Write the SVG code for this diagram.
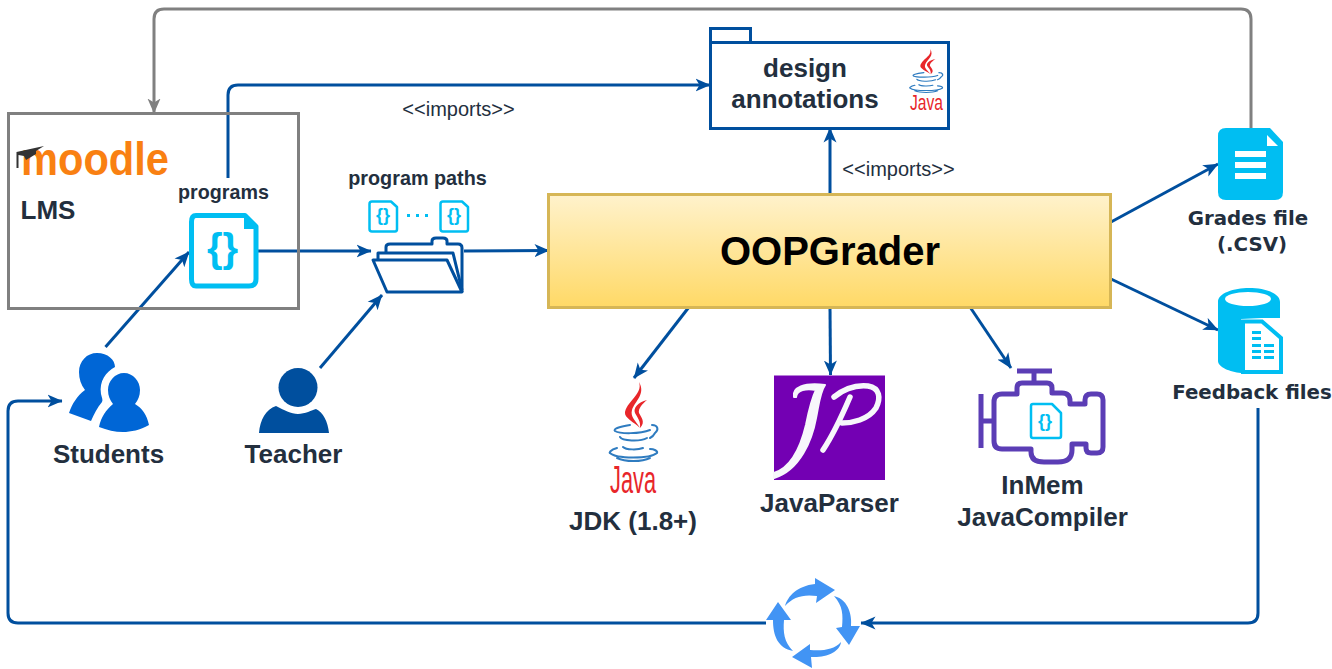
<svg xmlns="http://www.w3.org/2000/svg" width="1332" height="669" viewBox="0 0 1332 669">
<style>
text{font-family:"Liberation Sans",Arial,sans-serif;fill:#232f3e;text-anchor:middle}
.b{font-weight:bold}
.v{font-family:"DejaVu Sans",Verdana,sans-serif;font-weight:bold;font-size:19.800px}
.c{fill:none;stroke:#004f9e;stroke-width:3;stroke-linecap:butt}
.g{fill:none;stroke:#808080;stroke-width:3}
.f{fill:#fff;stroke:#00bef2;stroke-linejoin:round}
.br{font-family:"Liberation Sans",Arial,sans-serif;font-weight:bold;fill:#00bef2}
.jb{fill:none;stroke:#2f7cc0;stroke-width:2;stroke-linecap:round}
</style>
<defs>
<marker id="a" markerUnits="userSpaceOnUse" markerWidth="16" markerHeight="14" refX="14.500" refY="7" orient="auto"><path d="M0 0.500L15 7L0 13.500L4 7Z" fill="#004f9e"/></marker>
<marker id="ag" markerUnits="userSpaceOnUse" markerWidth="16" markerHeight="14" refX="14.500" refY="7" orient="auto"><path d="M0 0.500L15 7L0 13.500L4 7Z" fill="#808080"/></marker>
<linearGradient id="y" x1="0" y1="0" x2="0" y2="1"><stop offset="0" stop-color="#fff2cc"/><stop offset="1" stop-color="#ffd966"/></linearGradient>
<g id="jv">
<path d="M29 0C33 12 18 18 15 30C14 36 24 40 30 46C26 39 20 35 22 28C25 19 36 12 29 0Z" fill="#e8262a"/>
<path d="M37 18C28 20 23 26 25 31C27 35 31 39 30 46C36 40 31 35 29 31C28 27 32 22 37 18Z" fill="#e8262a"/>
<path class="jb" d="M20 43C8 45 3 47 5 49C10 52 30 52 40 48M42 43C48 43 49 48 45 51C44 53 42 55 40 56M10 55C12 59 30 60 37 56M13 65C16 68 28 68 33 66M7 66C0 68 -1 71 0 71C6 77 40 77 47 71C48 69 44 67 40 67M7 76C15 80 32 80 40 76"/>
</g>
</defs>

<g id="connectors">
<path class="g" marker-end="url(#ag)" d="M1251 128V19Q1251 9 1241 9H164Q154 9 154 19V113"/>
<path class="c" marker-end="url(#a)" d="M228 178V95Q228 85 238 85H710"/>
<path class="c" marker-end="url(#a)" d="M258 251H371"/>
<path class="c" marker-end="url(#a)" d="M464 251L549 250.500"/>
<path class="c" marker-end="url(#a)" d="M105.500 347L189 252"/>
<path class="c" marker-end="url(#a)" d="M320 368L382 295"/>
<path class="c" marker-end="url(#a)" d="M830 194V128"/>
<path class="c" marker-end="url(#a)" d="M689 307L634 378"/>
<path class="c" marker-end="url(#a)" d="M830 307L830.500 375"/>
<path class="c" marker-end="url(#a)" d="M970 307L1011 368"/>
<path class="c" marker-end="url(#a)" d="M1111 222L1218 164"/>
<path class="c" marker-end="url(#a)" d="M1111 279L1218 330"/>
<path class="c" marker-end="url(#a)" d="M1258 408V613Q1258 623 1248 623H861"/>
<path class="c" marker-end="url(#a)" d="M766 623H18Q8 623 8 613V411Q8 401 18 401H62"/>
</g>

<g id="lms">
<rect x="8.500" y="113.500" width="290" height="195" fill="none" stroke="#808080" stroke-width="3"/>
<text x="95" y="175" font-size="47" font-weight="bold" style="fill:#f98012" textLength="148" lengthAdjust="spacingAndGlyphs">moodle</text>
<path d="M16.500 152L44 146L36 151V154L26 160L24 156L18.500 155V168H16.500Z" fill="#333"/>
<text class="b" x="48" y="219" font-size="26">LMS</text>
</g>

<g id="programs">
<text class="b" x="223.500" y="199" font-size="19.700">programs</text>
<path class="f" stroke-width="5" d="M196 215.500H245L256 226.500V279Q256 286 249 286H196Q191.500 286 191.500 279V222Q191.500 215.500 196 215.500Z"/>
<path d="M244 214H246L258 226V229H244Z" fill="#00bef2"/>
<text class="br" x="222.500" y="262" font-size="40">{}</text>
</g>

<g id="program-paths">
<text class="b" x="417.500" y="185" font-size="19.800">program paths</text>
<path class="f" stroke-width="2.500" d="M372 201.500H391L397 207V229Q397 231.500 395 231.500H372Q369.500 231.500 369.500 229V204Q369.500 201.500 372 201.500Z"/>
<text class="br" x="383" y="221" font-size="18">{}</text>
<path class="f" stroke-width="2.500" d="M443 201.500H462L468 207V229Q468 231.500 466 231.500H443Q440.500 231.500 440.500 229V204Q440.500 201.500 443 201.500Z"/>
<text class="br" x="454" y="221" font-size="18">{}</text>
<path d="M407 214h3v3h-3zM416 214h3v3h-3zM425 214h3v3h-3z" fill="#00bef2"/>
<g fill="none" stroke="#004f9e" stroke-width="3" stroke-linejoin="round">
<path fill="#fff" d="M386 252V247Q386 244 390 244H432V241Q432 238 436 238H443Q447 238 447 241V244H458Q462 244 462 248V292"/>
<path fill="#fff" d="M378 263V253H453L462 290"/>
<path fill="#fff" d="M373 260H447L462 292H387Z"/>
</g>
</g>

<g id="students">
<path d="M97 353C108 353 115 360 115 367C106 372 99 381 101 394C102 398 103 400 102 402C97 408 94 414 91 421L69 413C72 404 77 396 85 390C81 385 79 379 79 372C79 361 87 353 97 353Z" fill="#0066d6"/>
<path d="M124 373C133 373 140 381 140 390C140 396 138 400 135 404C142 408 147 415 149 425C140 430 131 432 123 432C115 432 107 430 99 427C101 417 106 410 113 404C110 400 108 396 108 390C108 381 115 373 124 373Z" fill="#0066d6"/>
<text class="b" x="108.500" y="463" font-size="26">Students</text>
</g>

<g id="teacher">
<circle cx="298" cy="387.500" r="19.500" fill="#004f9e"/>
<path d="M259 433C260 420 266 409 276 406C284 410 291 414 298 414C305 414 312 410 316 409C323 412 328 422 329 433Z" fill="#004f9e"/>
<text class="b" x="293.500" y="463" font-size="26">Teacher</text>
</g>

<g id="design-annotations">
<rect x="710.500" y="28.500" width="40" height="14" fill="#fff" stroke="#004f9e" stroke-width="3"/>
<rect x="710.500" y="42.500" width="238" height="86" fill="#fff" stroke="#004f9e" stroke-width="3"/>
<text class="b" x="805" y="77" font-size="26">design</text>
<text class="b" x="805" y="108" font-size="26">annotations</text>
<use href="#jv" transform="translate(910 49) scale(.69 .55)"/>
<text transform="translate(926.500 110) scale(1 1.200)" x="0" y="0" font-size="19" style="fill:#e8262a" textLength="33" lengthAdjust="spacingAndGlyphs">Java</text>
</g>

<text x="458.500" y="116" font-size="20">&lt;&lt;imports&gt;&gt;</text>
<text x="898.500" y="176" font-size="20">&lt;&lt;imports&gt;&gt;</text>

<g id="oopgrader">
<rect x="548.500" y="194.500" width="562" height="113" fill="url(#y)" stroke="#d6b656" stroke-width="3"/>
<text class="b" x="830" y="265" font-size="40" style="fill:#000">OOPGrader</text>
</g>

<g id="jdk">
<use href="#jv" transform="translate(610 382)"/>
<text transform="translate(633 493) scale(1 1.200)" x="0" y="0" font-size="32" style="fill:#e8262a" textLength="46" lengthAdjust="spacingAndGlyphs">Java</text>
<text class="b" x="633" y="530" font-size="26">JDK (1.8+)</text>
</g>

<g id="javaparser">
<rect x="774" y="375.500" width="111" height="104.500" fill="#7300b3"/>
<path d="M794 397C792 388 804 382 825 385C820 392 819 403 816 418C812 440 800 470 774 478V473C790 468 800 450 806 425C809 410 812 398 816 390C806 388 797 390 796 397Z" fill="#f7f7fb" stroke="#f7f7fb" stroke-width="2" stroke-linejoin="round"/>
<g fill="none" stroke="#f7f7fb" stroke-linecap="round">
<path stroke-width="5.500" d="M823 450C831 438 838 425 850 397"/>
<path stroke-width="5.500" d="M834 397C845 388 858 385 868 386C880 388 881 398 876 408C868 420 852 423 842 423"/>
</g>
<text class="b" x="829.500" y="512" font-size="26">JavaParser</text>
</g>

<g id="inmem-compiler">
<g fill="none" stroke="#5b3db5" stroke-width="5" stroke-linejoin="round">
<path d="M1017 371H1052M1034 371V383M981 394V448M981 421H994"/>
<path d="M994 402Q994 394 1002 394H1017V388Q1017 383 1022 383H1047Q1052 383 1052 388V393H1062Q1070 393 1070 401V404H1085V400Q1085 394 1091 394H1097Q1103 394 1103 400V447Q1103 453 1097 453H1091Q1086 453 1086 448V444H1072V450Q1072 462 1058 462H1044Q1031 462 1031 452V449H1002Q994 449 994 441Z"/>
</g>
<path class="f" stroke-width="2.500" d="M1033 404H1052L1061 413V436Q1061 438 1059 438H1033Q1031 438 1031 436V406Q1031 404 1033 404Z"/>
<text class="br" x="1045" y="427" font-size="18">{}</text>
<text class="b" x="1042.500" y="494" font-size="26">InMem</text>
<text class="b" x="1042.500" y="526" font-size="26">JavaCompiler</text>
</g>

<g id="grades-file">
<path d="M1226 128H1270L1283 142V192Q1283 200 1275 200H1226Q1218 200 1218 192V136Q1218 128 1226 128Z" fill="#00bef2"/>
<path d="M1267 135L1278 146H1267Z" fill="#fff"/>
<path d="M1235 151h31v6h-31zM1235 162h31v6h-31zM1235 173h31v6h-31z" fill="#fff"/>
<text class="v" x="1248" y="225">Grades file</text>
<text class="v" x="1252" y="251">(.CSV)</text>
</g>

<g id="feedback-files">
<path d="M1218 302C1218 293 1234 288 1249 288C1265 288 1280 293 1280 302V318H1262L1241 319V373C1230 372 1218 367 1218 361Z" fill="#00bef2"/>
<ellipse cx="1248" cy="299" rx="23" ry="7" fill="#fff"/>
<path d="M1243 321.500H1262L1281 338V372H1243Z" fill="#fff" stroke="#00bef2" stroke-width="4"/>
<path d="M1252 331h9v3h-9zM1252 337h9v3h-9zM1252 344h9v3h-9zM1264 344h10v3h-10zM1252 350h9v3h-9zM1264 350h10v3h-10zM1252 356h9v3h-9zM1264 356h10v3h-10z" fill="#00bef2"/>
<text class="v" x="1252" y="399">Feedback files</text>
</g>

<g id="cycle" fill="#4294f4">
<path d="M785 606C788 596 797 586 815 584L815 578L835 590L816 603L817 596C803 594 793 597 785 606Z"/>
<path d="M834 596C850 600 852 618 851 626L860 626L849 645L836 628L842 627C843 615 843 606 834 596Z"/>
<path d="M841 642C840 652 826 658 811 657L812 668L792 657L810 644L810 650C822 651 834 650 841 642Z"/>
<path d="M793 651C778 648 773 636 773 620L766 620L778 602L791 620L784 620C783 632 784 642 793 651Z"/>
</g>
</svg>
